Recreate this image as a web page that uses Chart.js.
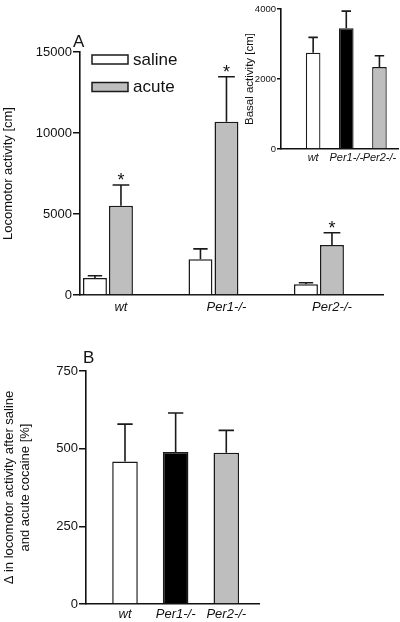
<!DOCTYPE html>
<html>
<head>
<meta charset="utf-8">
<script src="https://cdn.jsdelivr.net/npm/chart.js@4"></script>
<style>
  body { margin: 0; background: #fff; }
  #wrap { position: relative; width: 400px; height: 622px; overflow: hidden; font-family: "Liberation Sans", Arial, sans-serif; }
  canvas { position: absolute; }
  .panel { position: absolute; font-size: 17px; line-height: 17px; color: #111; }
</style>
</head>
<body>
<div id="wrap">
  <canvas id="chartA" width="400" height="320" style="left:0;top:0"></canvas>
  <canvas id="chartInset" width="160" height="175" style="left:240px;top:0"></canvas>
  <canvas id="chartB" width="400" height="292" style="left:0;top:330px"></canvas>
  <div class="panel" style="left:73px;top:33px">A</div>
  <div class="panel" style="left:83px;top:349px">B</div>
</div>
<script>
"use strict";

// genotype groups
const groups = ["wt", "Per1-/-", "Per2-/-"];

// panel A: locomotor activity [cm]
const salineActivity = [1050, 2200, 660];
const salineErr = [140, 650, 100];
const acuteActivity = [5510, 10690, 3085];
const acuteErr = [1280, 2780, 760];
const acuteStars = [true, true, true];

// inset: basal activity [cm]
const basalActivity = [2750, 3450, 2340];
const basalErr = [440, 490, 325];

// panel B: delta in locomotor activity [%]
const deltaActivity = [459, 489, 487];
const deltaErr = [120, 126, 72];

const GRAY = "#bebebe";
const EDGE = "#1a1a1a";

Chart.defaults.font.family = "'Liberation Sans', Arial, sans-serif";
Chart.defaults.color = "#111";

function points(values) {
  return values.map((v, i) => ({ x: i, y: v }));
}

// error bars + significance stars, on top of the bars
const errorBars = {
  id: "errorBars",
  afterDatasetsDraw(chart) {
    const ctx = chart.ctx;
    const yScale = chart.scales.y;
    chart.data.datasets.forEach((ds, di) => {
      const meta = chart.getDatasetMeta(di);
      meta.data.forEach((bar, i) => {
        const top = yScale.getPixelForValue(ds.data[i].y + ds.errors[i]);
        const cap = bar.width * (ds.capRatio || 0.6) / 2;
        ctx.save();
        ctx.strokeStyle = EDGE;
        ctx.lineWidth = 1.6;
        ctx.beginPath();
        ctx.moveTo(bar.x, bar.y);
        ctx.lineTo(bar.x, top);
        ctx.moveTo(bar.x - cap, top);
        ctx.lineTo(bar.x + cap, top);
        ctx.stroke();
        if (ds.stars && ds.stars[i]) {
          ctx.fillStyle = "#111";
          ctx.font = "18px 'Liberation Sans', Arial, sans-serif";
          ctx.textAlign = "center";
          ctx.textBaseline = "alphabetic";
          ctx.fillText("*", bar.x, top + 1);
        }
        ctx.restore();
      });
    });
  }
};

// legend stacked in the top-left of panel A
const boxLegend = {
  id: "boxLegend",
  afterDraw(chart) {
    const ctx = chart.ctx;
    const area = chart.chartArea;
    chart.data.datasets.forEach((ds, i) => {
      const x = area.left + 12;
      const y = area.top + 3 + i * 27.5;
      ctx.save();
      ctx.fillStyle = ds.backgroundColor;
      ctx.fillRect(x, y, 36, 9);
      ctx.strokeStyle = EDGE;
      ctx.lineWidth = 1.5;
      ctx.strokeRect(x, y, 36, 9);
      ctx.fillStyle = "#111";
      ctx.font = "17px 'Liberation Sans', Arial, sans-serif";
      ctx.textBaseline = "middle";
      ctx.fillText(ds.label, x + 41, y + 5);
      ctx.restore();
    });
  }
};

function yAxis(opts) {
  return {
    min: 0,
    max: opts.max,
    ticks: {
      stepSize: opts.step,
      padding: 1,
      color: "#111",
      font: { size: opts.tickSize },
      callback: (v) => String(v)
    },
    grid: { drawOnChartArea: false, drawTicks: true, tickLength: opts.tickLength, color: "#111", lineWidth: 1.5 },
    border: { display: true, color: "#111", width: 1.6 },
    title: {
      display: true,
      text: opts.title,
      color: "#111",
      font: { size: opts.titleSize, lineHeight: opts.lineHeight || 1.2 },
      padding: { top: opts.titlePad, bottom: 0 }
    },
    afterFit: (s) => { s.width = opts.width; }
  };
}

function xAxis(opts) {
  return {
    type: "linear",
    offset: false,
    min: opts.min,
    max: opts.max,
    afterBuildTicks: (s) => { s.ticks = groups.map((g, i) => ({ value: i })); },
    ticks: {
      autoSkip: false,
      maxRotation: 0,
      padding: opts.pad,
      labelOffset: opts.labelOffset || 0,
      color: "#111",
      font: { size: opts.size, style: "italic" },
      callback: (v) => groups[Math.round(v)]
    },
    grid: { display: false, drawTicks: false },
    border: { display: true, color: "#111", width: 1.6 },
    afterFit: (s) => { s.height = opts.height; }
  };
}

const baseOptions = {
  responsive: false,
  animation: false,
  plugins: { legend: { display: false }, tooltip: { enabled: false } }
};

new Chart(document.getElementById("chartA"), {
  type: "bar",
  data: {
    datasets: [
      {
        label: "saline",
        data: points(salineActivity),
        errors: salineErr,
        capRatio: 0.6,
        backgroundColor: "#ffffff",
        borderColor: EDGE,
        borderWidth: 1.5,
        categoryPercentage: 0.493,
        barPercentage: 0.92
      },
      {
        label: "acute",
        data: points(acuteActivity),
        errors: acuteErr,
        stars: acuteStars,
        capRatio: 0.7,
        backgroundColor: GRAY,
        borderColor: EDGE,
        borderWidth: 1.5,
        categoryPercentage: 0.493,
        barPercentage: 0.92
      }
    ]
  },
  options: {
    ...baseOptions,
    layout: { padding: { left: 0, top: 52, right: 17, bottom: 0 } },
    scales: {
      x: xAxis({ min: -0.265, max: 2.607, size: 13, pad: 5, height: 25, labelOffset: 13 }),
      y: yAxis({ max: 15000, step: 5000, tickSize: 13, tickLength: 7, width: 80,
                 title: "Locomotor activity [cm]", titleSize: 13, titlePad: 1 })
    }
  },
  plugins: [errorBars, boxLegend]
});

new Chart(document.getElementById("chartInset"), {
  type: "bar",
  data: {
    datasets: [
      {
        label: "basal",
        data: points(basalActivity),
        errors: basalErr,
        capRatio: 0.65,
        backgroundColor: ["#ffffff", "#000000", GRAY],
        borderColor: EDGE,
        borderWidth: 1.3,
        categoryPercentage: 0.44,
        barPercentage: 1
      }
    ]
  },
  options: {
    ...baseOptions,
    layout: { padding: { left: 0, top: 9, right: 2, bottom: 0 } },
    scales: {
      x: xAxis({ min: -0.97, max: 2.56, size: 11, pad: 2, height: 26 }),
      y: yAxis({ max: 4000, step: 2000, tickSize: 9.5, tickLength: 4, width: 41,
                 title: "Basal activity [cm]", titleSize: 11.5, titlePad: 3 })
    }
  },
  plugins: [errorBars]
});

new Chart(document.getElementById("chartB"), {
  type: "bar",
  data: {
    datasets: [
      {
        label: "delta",
        data: points(deltaActivity),
        errors: deltaErr,
        capRatio: 0.6,
        backgroundColor: ["#ffffff", "#000000", GRAY],
        borderColor: EDGE,
        borderWidth: 1.5,
        categoryPercentage: 0.505,
        barPercentage: 1
      }
    ]
  },
  options: {
    ...baseOptions,
    layout: { padding: { left: 0, top: 41, right: 141, bottom: 0 } },
    scales: {
      x: xAxis({ min: -0.77, max: 2.646, size: 13, pad: 3, height: 18 }),
      y: yAxis({ max: 750, step: 250, tickSize: 13, tickLength: 7, width: 86,
                 title: ["\u0394 in locomotor activity after saline", "and acute cocaine [%]"],
                 titleSize: 13, lineHeight: 16 / 13, titlePad: 1 })
    }
  },
  plugins: [errorBars]
});
</script>
</body>
</html>
